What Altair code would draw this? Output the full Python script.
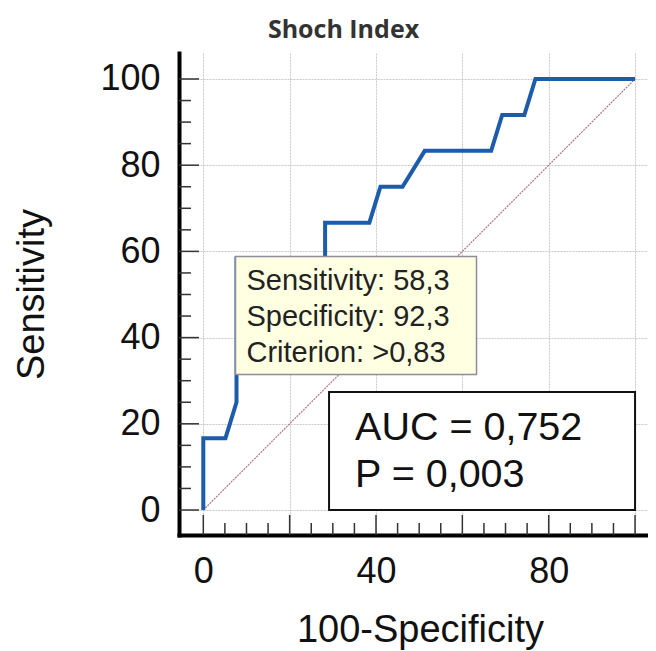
import altair as alt
import pandas as pd

# ---- data ----
roc_fpr = [0, 0, 5.13, 7.69, 7.69, 28.21, 28.21, 38.46, 41.03, 46.15, 51.28, 66.67, 69.23, 74.36, 76.92, 100]
roc_tpr = [0, 16.67, 16.67, 25.0, 58.33, 58.33, 66.67, 66.67, 75.0, 75.0, 83.33, 83.33, 91.67, 91.67, 100, 100]
diag_vals = [0, 100]
grid_ticks = [0, 20, 40, 60, 80, 100]
x_tick_labels = [0, 40, 80]
y_tick_labels = [0, 20, 40, 60, 80, 100]
minor_ticks = [5, 10, 15, 25, 30, 35, 45, 50, 55, 65, 70, 75, 85, 90, 95]
crit_fpr = [7.69]
crit_tpr = [58.33]
crit_lines = ["Sensitivity: 58,3", "Specificity: 92,3", "Criterion: >0,83"]
auc_fpr = [100]
auc_tpr = [0]
auc_lines = ["AUC = 0,752", "P = 0,003"]

W, H = 469, 482
FONT = "Liberation Sans"
BLUE = "#1c5caa"

xs = alt.Scale(domain=[-5.63, 103.0], nice=False, zero=False)
ys = alt.Scale(domain=[-5.8, 106.03], nice=False, zero=False)

roc_df = pd.DataFrame({"fpr": roc_fpr, "tpr": roc_tpr, "i": list(range(len(roc_fpr)))})
diag_df = pd.DataFrame({"fpr": diag_vals, "tpr": diag_vals})
major_df = pd.DataFrame({"fpr": grid_ticks, "tpr": grid_ticks})
minor_df = pd.DataFrame({"fpr": minor_ticks, "tpr": minor_ticks})
crit_df = pd.DataFrame({"fpr": crit_fpr, "tpr": crit_tpr, "t": ["\n".join(crit_lines)]})
auc_df = pd.DataFrame({"fpr": auc_fpr, "tpr": auc_tpr, "t": ["\n".join(auc_lines)]})

label_list = ",".join(str(v) for v in x_tick_labels)
x_axis = alt.Axis(
    values=grid_ticks,
    labelExpr=f"indexof([{label_list}], datum.value) >= 0 ? datum.label : ''",
    title="100-Specificity",
    titleFont=FONT, titleFontSize=38, titleFontWeight="normal", titleColor="#111111",
    titleX=241, titleY=106, titleBaseline="alphabetic",
    labelFont=FONT, labelFontSize=36, labelColor="#111111", labelPadding=19,
    ticks=False, tickSize=0,
    domainColor="#000000", domainWidth=4, domainCap="square",
    grid=True, gridColor="#c8c8c8", gridWidth=1, gridDash=[2, 1],
)
y_axis = alt.Axis(
    values=y_tick_labels,
    title="Sensitivity",
    titleFont=FONT, titleFontSize=38, titleFontWeight="normal", titleColor="#111111",
    titleX=-136, titleY=241, titleAngle=270, titleBaseline="alphabetic", titleAlign="center",
    labelFont=FONT, labelFontSize=36, labelColor="#111111", labelPadding=19,
    ticks=False, tickSize=0,
    domainColor="#000000", domainWidth=4, domainCap="square",
    grid=True, gridColor="#c8c8c8", gridWidth=1, gridDash=[2, 1],
)

X = alt.X("fpr:Q", scale=xs, axis=x_axis)
Y = alt.Y("tpr:Q", scale=ys, axis=y_axis)

diag = alt.Chart(diag_df).mark_line(color="#b07676", strokeWidth=1.2, strokeDash=[2, 1]).encode(
    x=X, y=Y,
)

roc = alt.Chart(roc_df).mark_line(color=BLUE, strokeWidth=4, strokeJoin="miter").encode(
    x=X, y=Y, order="i:Q",
)

crit_box = alt.Chart(crit_df).mark_rect(
    fill="#ffffe1", stroke="#8c8c9c", strokeWidth=1.5,
    xOffset=-1, x2Offset=240, yOffset=-2, y2Offset=116,
).encode(x=X, x2="fpr:Q", y=Y, y2="tpr:Q")

crit_txt = alt.Chart(crit_df).mark_text(
    font=FONT, fontSize=29, color="#222222", align="left", baseline="alphabetic",
    lineBreak="\n", lineHeight=36, dx=10, dy=31,
).encode(x=X, y=Y, text="t:N")

auc_box = alt.Chart(auc_df).mark_rect(
    fill="#ffffff", stroke="#111111", strokeWidth=2,
    xOffset=-306, x2Offset=0, yOffset=-118, y2Offset=0,
).encode(x=X, x2="fpr:Q", y=Y, y2="tpr:Q")

auc_txt = alt.Chart(auc_df).mark_text(
    font=FONT, fontSize=39.5, color="#111111", align="left", baseline="alphabetic",
    lineBreak="\n", lineHeight=47, dx=-280, dy=-70,
).encode(x=X, y=Y, text="t:N")

TICK_C = "#333333"
x_major = alt.Chart(major_df).mark_rule(color=TICK_C, strokeWidth=1.5).encode(
    x=X, y=alt.value(H), y2=alt.value(H - 20))
x_minor = alt.Chart(minor_df).mark_rule(color=TICK_C, strokeWidth=1.5).encode(
    x=X, y=alt.value(H), y2=alt.value(H - 12))
y_major = alt.Chart(major_df).mark_rule(color=TICK_C, strokeWidth=1.5).encode(
    y=Y, x=alt.value(0), x2=alt.value(20))
y_minor = alt.Chart(minor_df).mark_rule(color=TICK_C, strokeWidth=1.5).encode(
    y=Y, x=alt.value(0), x2=alt.value(12))

chart = alt.layer(
    diag, roc, crit_box, crit_txt, auc_box, auc_txt, x_major, x_minor, y_major, y_minor
).properties(
    width=W, height=H,
    padding={"left": 171, "top": 45, "right": 0, "bottom": 125},
    autosize=alt.AutoSizeParams(type="none"),
    title=alt.TitleParams(
        "Shoch Index", font="Open Sans", fontSize=25, fontWeight="bold", color="#333333",
        anchor="middle", frame="group", dx=-70, offset=10,
    ),
).configure_view(stroke=None)

chart.save("out.html", embed_options={"renderer": "svg", "actions": False})
